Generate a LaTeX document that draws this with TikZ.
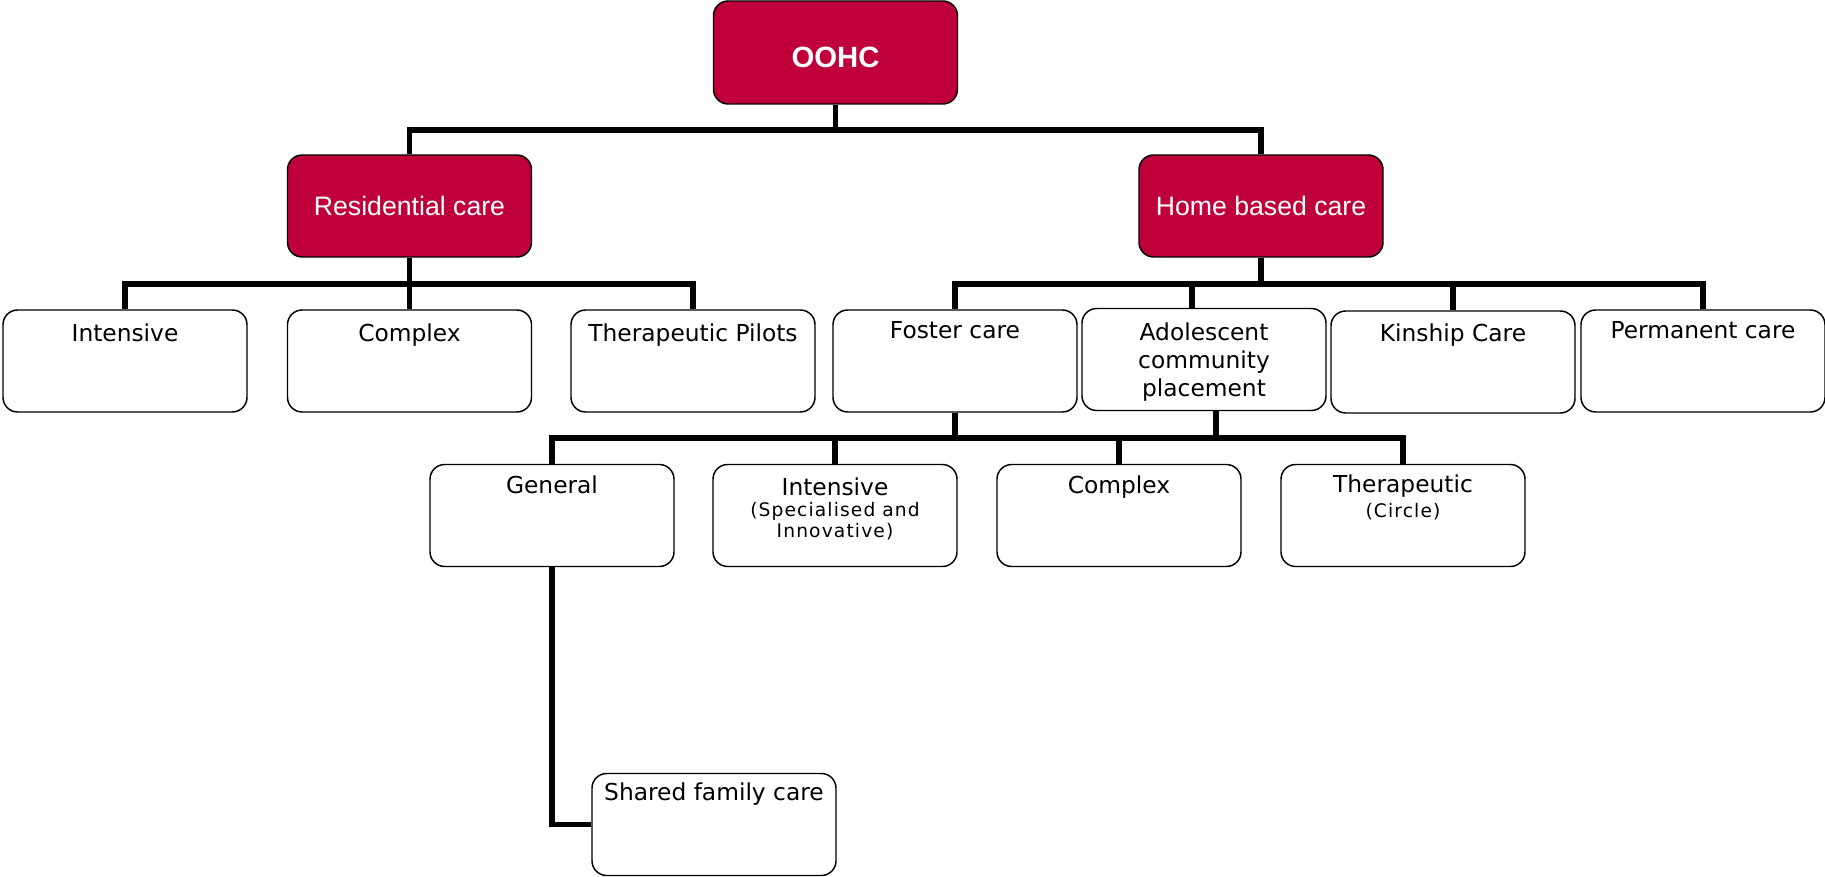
\documentclass[tikz,border=0pt]{standalone}
\usepackage{fontspec}
\setmainfont{DejaVu Sans}
\newfontfamily\arialfont{Liberation Sans}
\newfontfamily\subfont[LetterSpace=6]{DejaVu Sans}
\definecolor{oohcred}{RGB}{192,0,58}
\begin{document}
\begin{tikzpicture}[x=0.75pt,y=-0.75pt,
  box/.style={draw=black, line width=1.1pt, rounded corners=11pt, minimum width=183pt, minimum height=76.5pt, inner sep=0pt, fill=white},
  redbox/.style={box, fill=oohcred},
  conn/.style={line width=4.1pt, line join=miter},
  lbl/.style={anchor=base, inner sep=0pt, font=\fontsize{17.5}{21}\selectfont, align=center},
  sublbl/.style={anchor=base, inner sep=0pt, font=\subfont\fontsize{14}{15.5}\selectfont, align=center},
  whitelbl/.style={inner sep=0pt, text=white, font=\arialfont\fontsize{20}{24}\selectfont},
]
\useasboundingbox (0,0) rectangle (1825,877);
% boxes
\node[redbox, minimum height=77.25pt] (oohc) at (835.5,52.5) {};
\node[redbox] (res) at (409.5,206) {};
\node[redbox] (home) at (1261,206) {};
\node[box] (int1) at (125,361) {};
\node[box] (cpx1) at (409.5,361) {};
\node[box] (pil) at (693,361) {};
\node[box] (fost) at (955,361) {};
\node[box] (adol) at (1204,359.5) {};
\node[box] (kin) at (1453,362) {};
\node[box] (perm) at (1703,361) {};
\node[box] (gen) at (552,515.5) {};
\node[box] (int2) at (835,515.5) {};
\node[box] (cpx2) at (1119,515.5) {};
\node[box] (ther) at (1403,515.5) {};
\node[box] (shared) at (714,824.5) {};
% texts
\node[inner sep=0pt, text=white, font=\arialfont\bfseries\fontsize{22}{26}\selectfont] (t-oohc) at ([yshift=-3.5pt]oohc.center) {OOHC};
\node[whitelbl] (t-res) at (res.center) {Residential care};
\node[whitelbl] (t-home) at (home.center) {Home based care};
\node[lbl] (t-int1) at ([yshift=-24pt]int1.north) {Intensive};
\node[lbl] (t-cpx1) at ([yshift=-24pt]cpx1.north) {Complex};
\node[lbl] (t-pil) at ([yshift=-24pt]pil.north) {Therapeutic Pilots};
\node[lbl] (t-fost) at ([yshift=-21.75pt]fost.north) {Foster care};
\node[lbl] (t-adol) at ([yshift=-66.75pt]adol.north) {Adolescent\\community\\placement};
\node[lbl] (t-kin) at ([yshift=-23.25pt]kin.north) {Kinship Care};
\node[lbl] (t-perm) at ([yshift=-21.75pt]perm.north) {Permanent care};
\node[lbl] (t-gen) at ([yshift=-22.5pt]gen.north) {General};
\node[lbl] (t-int2) at ([yshift=-23.5pt]int2.north) {Intensive};
\node[sublbl] (t-int2s) at ([yshift=-55pt]int2.north) {(Specialised and\\Innovative)};
\node[lbl] (t-cpx2) at ([yshift=-22.5pt]cpx2.north) {Complex};
\node[lbl] (t-ther) at ([yshift=-21.75pt]ther.north) {Therapeutic};
\node[sublbl] (t-thers) at ([yshift=-40.5pt]ther.north) {(Circle)};
\node[lbl] (t-shared) at ([yshift=-21pt]shared.north) {Shared family care};
% bus coordinates
\coordinate (bus1) at (0,130);
\coordinate (bus2) at (0,284);
\coordinate (bus3) at (0,438);
\coordinate (adolTop) at ([xshift=-9pt]adol.north);
\coordinate (adolBot) at ([xshift=9pt]adol.south);
% connectors
\draw[conn] (oohc.south) -- (oohc.south |- bus1);
\draw[conn] (res.north) -- (res.north |- bus1) -- (home.north |- bus1) -- (home.north);
\draw[conn] (res.south) -- (res.south |- bus2);
\draw[conn] (int1.north) -- (int1.north |- bus2) -- (pil.north |- bus2) -- (pil.north);
\draw[conn] (cpx1.north) -- (cpx1.north |- bus2);
\draw[conn] (home.south) -- (home.south |- bus2);
\draw[conn] (fost.north) -- (fost.north |- bus2) -- (perm.north |- bus2) -- (perm.north);
\draw[conn] (adolTop) -- (adolTop |- bus2);
\draw[conn] (kin.north) -- (kin.north |- bus2);
\draw[conn] (fost.south) -- (fost.south |- bus3);
\draw[conn] (adolBot) -- (adolBot |- bus3);
\draw[conn] (gen.north) -- (gen.north |- bus3) -- (ther.north |- bus3) -- (ther.north);
\draw[conn] (int2.north) -- (int2.north |- bus3);
\draw[conn] (cpx2.north) -- (cpx2.north |- bus3);
\draw[conn] (gen.south) |- (shared.west);
\end{tikzpicture}
\end{document}
